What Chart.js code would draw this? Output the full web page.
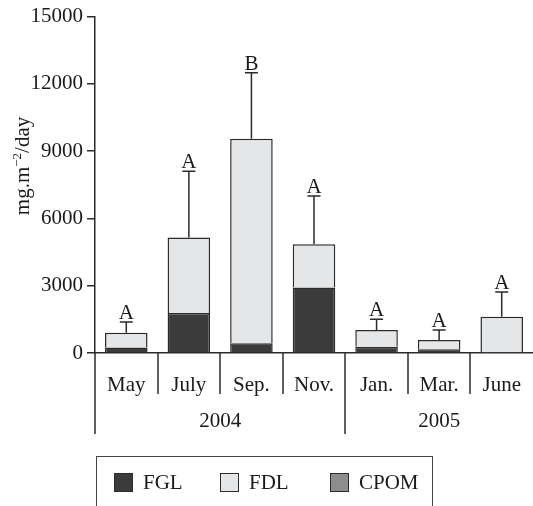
<!DOCTYPE html>
<html>
<head>
<meta charset="utf-8">
<script src="https://cdn.jsdelivr.net/npm/chart.js@4.4.1/dist/chart.umd.min.js"></script>
<style>
  html, body { margin: 0; padding: 0; background: #fff; }
  #wrap { width: 533px; height: 506px; }
</style>
</head>
<body>
<div id="wrap"><canvas id="litterChart" width="533" height="506"></canvas></div>
<script>
// sampling months and the year they belong to
const months = ['May', 'July', 'Sep.', 'Nov.', 'Jan.', 'Mar.', 'June'];
const years = ['2004', '2004', '2004', '2004', '2005', '2005', '2005'];

// litter fall, mg.m-2/day
const fgl = [250, 1780, 430, 2920, 280, 165, 0];
const fdl = [650, 3370, 9120, 1930, 740, 415, 1620];
const cpom = [0, 0, 0, 0, 0, 0, 0];
const errTop = [1380, 8100, 12500, 7000, 1500, 1020, 2720];
const letters = ['A', 'A', 'B', 'A', 'A', 'A', 'A'];
const yTicks = [0, 3000, 6000, 9000, 12000, 15000];

const serif = '"Liberation Serif", "Times New Roman", serif';
const ink = '#2b2b2b';
const textInk = '#1a1a1a';
const fontSize = 21;

const extras = {
  id: 'extras',
  afterDraw(chart) {
    const { ctx, chartArea: area } = chart;
    const x = chart.scales.x, y = chart.scales.y;
    const step = (area.right - area.left) / months.length;
    ctx.save();
    ctx.strokeStyle = ink;
    ctx.lineWidth = 1.5;

    // error bars and letters
    ctx.fillStyle = textInk;
    ctx.font = fontSize + 'px ' + serif;
    ctx.textAlign = 'center';
    ctx.textBaseline = 'alphabetic';
    months.forEach((m, i) => {
      const cx = x.getPixelForValue(i);
      const total = fgl[i] + fdl[i] + cpom[i];
      const y0 = y.getPixelForValue(total);
      const y1 = y.getPixelForValue(errTop[i]);
      ctx.beginPath();
      ctx.moveTo(cx, y0);
      ctx.lineTo(cx, y1);
      ctx.moveTo(cx - 6.5, y1);
      ctx.lineTo(cx + 6.5, y1);
      ctx.stroke();
      ctx.fillText(letters[i], cx, y1 - 3);
    });

    // y axis carried down through the label rows
    ctx.beginPath();
    ctx.moveTo(area.left, area.bottom);
    ctx.lineTo(area.left, area.bottom + 81);
    ctx.stroke();

    // month separators, and longer ones between years
    for (let i = 1; i < months.length; i++) {
      const sx = Math.round(area.left + step * i);
      const longer = years[i] !== years[i - 1];
      ctx.beginPath();
      ctx.moveTo(sx, area.bottom);
      ctx.lineTo(sx, area.bottom + (longer ? 81 : 41));
      ctx.stroke();
    }

    // year labels centred under their months
    ctx.textBaseline = 'middle';
    let start = 0;
    for (let i = 1; i <= years.length; i++) {
      if (i === years.length || years[i] !== years[start]) {
        const cx = area.left + step * (start + i) / 2;
        ctx.fillText(years[start], cx, area.bottom + 68);
        start = i;
      }
    }

    // y axis title with a raised -2
    ctx.save();
    ctx.translate(29, 166);
    ctx.rotate(-Math.PI / 2);
    ctx.textAlign = 'left';
    ctx.textBaseline = 'alphabetic';
    const big = fontSize + 'px ' + serif, small = '13px ' + serif;
    ctx.font = big;
    const w1 = ctx.measureText('mg.m').width, w3 = ctx.measureText('/day').width;
    ctx.font = small;
    const w2 = ctx.measureText('\u22122').width;
    let tx = -(w1 + w2 + w3) / 2;
    ctx.font = big;
    ctx.fillText('mg.m', tx, 0);
    tx += w1;
    ctx.font = small;
    ctx.fillText('\u22122', tx, -8);
    tx += w2;
    ctx.font = big;
    ctx.fillText('/day', tx, 0);
    ctx.restore();

    // legend box
    ctx.lineWidth = 1;
    ctx.strokeStyle = '#444';
    ctx.strokeRect(96.5, 456.5, 336, 70);
    const legendX = [114, 220, 330];
    ctx.textAlign = 'left';
    ctx.textBaseline = 'middle';
    chart.data.datasets.forEach((ds, i) => {
      ctx.fillStyle = ds.backgroundColor;
      ctx.fillRect(legendX[i], 473, 19, 19);
      ctx.strokeStyle = ink;
      ctx.strokeRect(legendX[i] + 0.5, 473.5, 18, 18);
      ctx.fillStyle = textInk;
      ctx.fillText(ds.label, legendX[i] + 29, 483);
    });
    ctx.restore();
  }
};

const ctx = document.getElementById('litterChart');
const litterChart = new Chart(ctx, {
  type: 'bar',
  data: {
    labels: months,
    datasets: [
      { label: 'FGL', data: fgl, backgroundColor: '#3b3b3b' },
      { label: 'FDL', data: fdl, backgroundColor: '#e5e6e8' },
      { label: 'CPOM', data: cpom, backgroundColor: '#8d8d8f' }
    ]
  },
  options: {
    responsive: false,
    animation: false,
    layout: { padding: { top: 16, right: 0, left: 0, bottom: 0 } },
    datasets: {
      bar: {
        borderColor: ink,
        borderWidth: 1.5,
        categoryPercentage: 1,
        barPercentage: 0.68
      }
    },
    plugins: {
      legend: { display: false },
      tooltip: { enabled: false }
    },
    scales: {
      x: {
        stacked: true,
        grid: { display: false },
        border: { display: true, color: ink, width: 1.5 },
        ticks: { color: textInk, font: { family: serif, size: fontSize }, padding: 12, maxRotation: 0 },
        afterFit: (scale) => { scale.height = 153; }
      },
      y: {
        stacked: true,
        min: 0,
        max: 15000,
        afterBuildTicks: (scale) => { scale.ticks = yTicks.map(v => ({ value: v })); },
        grid: { drawOnChartArea: false, tickLength: 8, color: ink, lineWidth: 1.5 },
        border: { display: true, color: ink, width: 1.5 },
        ticks: { color: textInk, font: { family: serif, size: fontSize }, padding: 4, callback: (v) => String(v) },
        afterFit: (scale) => { scale.width = 95; }
      }
    }
  },
  plugins: [extras]
});
</script>
</body>
</html>
